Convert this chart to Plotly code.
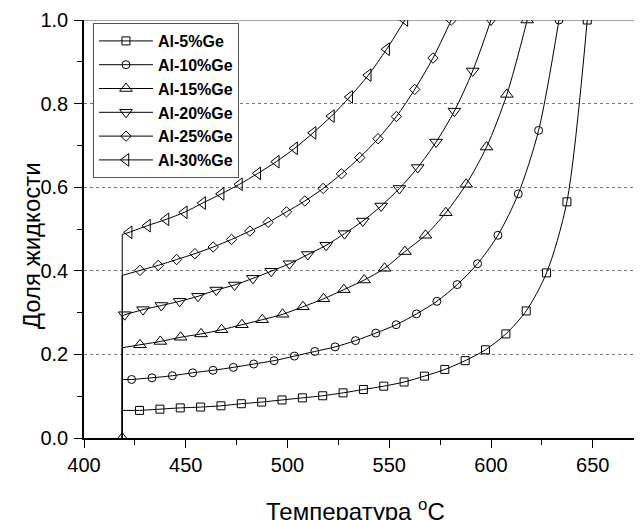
import plotly.graph_objects as go

# ---------------- data ----------------
alloys = ["Al-5%Ge", "Al-10%Ge", "Al-15%Ge", "Al-20%Ge", "Al-25%Ge", "Al-30%Ge"]
symbols = ["square-open", "circle-open", "triangle-up-open", "triangle-down-open", "diamond-open", "triangle-left-open"]

eutectic_T = 418.8
start_frac = [0.066, 0.140, 0.216, 0.290, 0.389, 0.487]

temp_5 = [427.3, 437.3, 447.3, 457.3, 467.3, 477.3, 487.3, 497.3, 507.3, 517.3, 527.3, 537.3,
          547.3, 557.3, 567.3, 577.3, 587.3, 597.3, 607.3, 617.3, 627.3, 637.3, 647.3]
frac_5 = [0.066, 0.069, 0.072, 0.074, 0.077, 0.082, 0.086, 0.091, 0.096, 0.101, 0.108, 0.116,
          0.124, 0.134, 0.148, 0.164, 0.185, 0.211, 0.249, 0.304, 0.395, 0.565, 1.0]

temp_10 = [423.4, 433.4, 443.4, 453.4, 463.4, 473.4, 483.4, 493.4, 503.4, 513.4, 523.4, 533.4,
           543.4, 553.4, 563.4, 573.4, 583.4, 593.4, 603.4, 613.4, 623.4, 633.4]
frac_10 = [0.140, 0.144, 0.149, 0.156, 0.162, 0.169, 0.177, 0.185, 0.196, 0.207, 0.218, 0.233,
           0.251, 0.271, 0.297, 0.327, 0.367, 0.417, 0.485, 0.584, 0.736, 1.0]

temp_15 = [427.5, 437.5, 447.5, 457.5, 467.6, 477.6, 487.6, 497.6, 507.6, 517.7, 527.7, 537.7,
           547.7, 557.7, 567.8, 577.8, 587.8, 597.8, 607.8, 617.8]
frac_15 = [0.223, 0.231, 0.241, 0.249, 0.259, 0.271, 0.283, 0.296, 0.314, 0.333, 0.355, 0.378,
           0.406, 0.446, 0.485, 0.539, 0.607, 0.696, 0.822, 1.0]

temp_20 = [420.0, 429.0, 438.0, 447.0, 456.0, 465.0, 474.0, 483.0, 492.0, 501.0, 510.0, 519.0,
           528.0, 537.0, 546.0, 555.0, 564.0, 573.0, 582.0, 591.0, 600.0]
frac_20 = [0.295, 0.307, 0.317, 0.327, 0.339, 0.354, 0.366, 0.382, 0.399, 0.417, 0.439, 0.461,
           0.489, 0.519, 0.555, 0.597, 0.647, 0.708, 0.782, 0.878, 1.0]

temp_25 = [427.5, 436.5, 445.5, 454.5, 463.5, 472.5, 481.5, 490.5, 499.5, 508.5, 517.5, 526.5,
           535.5, 544.5, 553.5, 562.5, 571.5, 580.5]
frac_25 = [0.401, 0.413, 0.427, 0.441, 0.457, 0.475, 0.495, 0.516, 0.541, 0.567, 0.597, 0.632,
           0.671, 0.716, 0.769, 0.834, 0.909, 1.0]

temp_30 = [422.2, 431.2, 440.3, 449.3, 458.3, 467.4, 476.4, 485.4, 494.5, 503.5, 512.6, 521.6,
           530.6, 539.7, 548.7, 557.7]
frac_30 = [0.492, 0.508, 0.523, 0.540, 0.562, 0.584, 0.607, 0.633, 0.661, 0.693, 0.730, 0.770,
           0.816, 0.868, 0.930, 1.0]

temps = [temp_5, temp_10, temp_15, temp_20, temp_25, temp_30]
fracs = [frac_5, frac_10, frac_15, frac_20, frac_25, frac_30]

x_ticks = [400, 450, 500, 550, 600, 650]
y_ticks = [0.0, 0.2, 0.4, 0.6, 0.8, 1.0]

x_title = "Температура <sup>o</sup>C"
y_title = "Доля жидкости"

# ---------------- figure ----------------
FONT = "Liberation Sans, Arial, sans-serif"
marker_sizes = {"square-open": 8, "circle-open": 8, "triangle-up-open": 11,
                "triangle-down-open": 11, "diamond-open": 8, "triangle-left-open": 11}

fig = go.Figure()

# vertical eutectic segments (drawn first, no legend)
for name, f0, t, f in zip(alloys, start_frac, temps, fracs):
    fig.add_trace(go.Scatter(
        x=[eutectic_T, eutectic_T, t[0]], y=[0.0, f0, f[0]],
        mode="lines", line=dict(color="black", width=1),
        showlegend=False, hoverinfo="skip"))

# the marker sitting at zero on the eutectic line
fig.add_trace(go.Scatter(
    x=[eutectic_T], y=[0.0], mode="markers",
    marker=dict(symbol="triangle-up-open", size=11, color="black", line=dict(width=1)),
    showlegend=False, hoverinfo="skip"))

for name, sym, t, f in zip(alloys, symbols, temps, fracs):
    fig.add_trace(go.Scatter(
        x=t, y=f, name=name, mode="lines+markers",
        line=dict(color="black", width=1, shape="spline", smoothing=0.8),
        marker=dict(symbol=sym, size=marker_sizes[sym], color="black",
                    line=dict(color="black", width=1))))

fig.update_layout(
    width=634, height=512,
    margin=dict(l=76, r=0, t=12, b=82, autoexpand=False),
    paper_bgcolor="white", plot_bgcolor="white",
    font=dict(family=FONT, color="black", size=20),
    showlegend=True,
    legend=dict(
        x=0.0161, y=0.9928, xanchor="left", yanchor="top",
        bgcolor="white", bordercolor="#555", borderwidth=1,
        font=dict(family=FONT, size=16, color="black", weight="bold"),
        tracegroupgap=0, itemwidth=54, entrywidth=150),
    shapes=[dict(type="line", xref="paper", yref="y", x0=0, x1=1, y0=1, y1=1,
                 line=dict(color="#888", width=1.5), layer="below")],
    annotations=[
        dict(text=x_title, xref="paper", yref="paper", x=0.4857, y=-0.172,
             xanchor="center", yanchor="middle", showarrow=False,
             font=dict(size=24, family=FONT, color="black")),
        dict(text=y_title, xref="paper", yref="paper", x=-0.0940, y=0.4598,
             xanchor="center", yanchor="middle", showarrow=False, textangle=-90,
             font=dict(size=24, family=FONT, color="black")),
    ],
)

fig.update_xaxes(
    range=[400, 674.2], tickvals=x_ticks, ticktext=[str(v) for v in x_ticks],
    showgrid=False, zeroline=False,
    showline=True, linecolor="black", linewidth=1.5,
    ticks="outside", ticklen=8, tickwidth=1, tickcolor="black",
    tickfont=dict(size=20, family=FONT), ticklabelstandoff=0,
    minor=dict(dtick=25, tick0=400, ticks="outside", ticklen=5, tickcolor="black", showgrid=False),
)
fig.update_yaxes(
    range=[0, 1.0], tickvals=y_ticks, ticktext=[f"{v:.1f}" for v in y_ticks],
    showgrid=True, gridcolor="#777", griddash="dot", gridwidth=1,
    zeroline=False,
    showline=True, linecolor="black", linewidth=1.5,
    ticks="outside", ticklen=8, tickwidth=1, tickcolor="black",
    tickfont=dict(size=20, family=FONT), ticklabelstandoff=2,
    minor=dict(dtick=0.1, tick0=0, ticks="outside", ticklen=5, tickcolor="black", showgrid=False),
)

fig.write_html("out.html")
